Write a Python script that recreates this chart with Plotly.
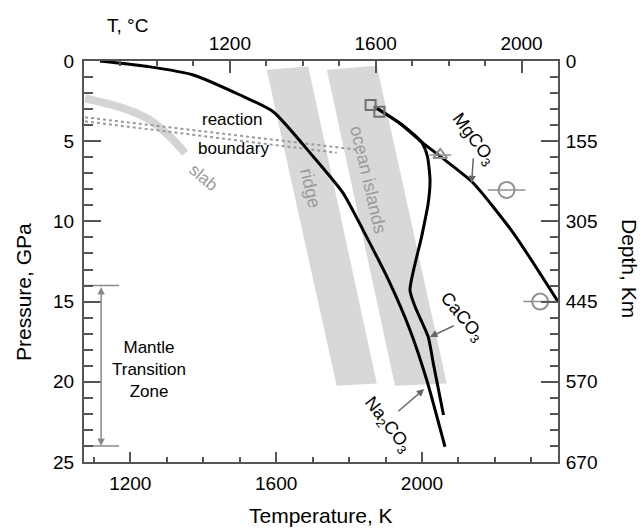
import plotly.graph_objects as go

# ---------------- data (Temperature in K, Pressure in GPa) ----------------
na2co3_T = [1117, 1250, 1373, 1501, 1592, 1702, 1784, 1842, 1908, 1967, 2013, 2063]
na2co3_P = [0.0, 0.35, 0.87, 2.12, 3.16, 5.97, 8.25, 10.7, 13.65, 16.77, 19.89, 24.05]

mgco3_T = [1876, 1940, 2004, 2070, 2141, 2251, 2373]
mgco3_P = [2.95, 3.9, 5.13, 6.3, 7.62, 10.74, 15.0]

caco3_T = [1876, 1940, 2000, 2015, 2022, 2017, 1999, 1967, 1981, 2017, 2031, 2059]
caco3_P = [2.95, 3.9, 5.1, 5.97, 7.42, 8.87, 10.95, 14.28, 15.32, 17.19, 18.85, 22.07]

ridge_T = [1574, 1688, 1876, 1766]
ridge_P = [0.55, 0.35, 20.1, 20.25]

ocean_T = [1739, 1876, 2068, 1926]
ocean_P = [0.55, 0.3, 20.1, 20.25]

slab_T = [1076, 1181, 1254, 1309, 1350]
slab_P = [2.33, 2.95, 3.68, 4.72, 5.75]

reactA_T = [1076, 1830]
reactA_P = [3.51, 5.55]
reactB_T = [1076, 1766]
reactB_P = [3.76, 5.72]

square_T = [1859, 1883]
square_P = [2.74, 3.16]
tri_T = [2050]
tri_P = [5.86]
tri_err = [30]
circle_T = [2232, 2324]
circle_P = [8.04, 15.0]
circle_err = [52, 46]

mtz_P = [14.0, 24.0]
mtz_T = [1073, 1169]

x_ticks_K = [1200, 1600, 2000]
x_ticks_C = [1200, 1600, 2000]
y_ticks = [0, 5, 10, 15, 20, 25]
depth_labels = ["0", "155", "305", "445", "570", "670"]

FONT = "Liberation Sans, Arial, Helvetica, sans-serif"
AX = "#555555"
GRAYTXT = "#9a9a9a"

fig = go.Figure()

# bands
fig.add_trace(go.Scatter(x=ridge_T + [ridge_T[0]], y=ridge_P + [ridge_P[0]], fill="toself",
                         fillcolor="#d8d8d8", line=dict(width=0), mode="lines", hoverinfo="skip"))
fig.add_trace(go.Scatter(x=ocean_T + [ocean_T[0]], y=ocean_P + [ocean_P[0]], fill="toself",
                         fillcolor="#d8d8d8", line=dict(width=0), mode="lines", hoverinfo="skip"))
# slab
fig.add_trace(go.Scatter(x=slab_T, y=slab_P, mode="lines",
                         line=dict(color="#d4d4d4", width=8, shape="spline")))
# reaction boundary
for tt, pp in [(reactA_T, reactA_P), (reactB_T, reactB_P)]:
    fig.add_trace(go.Scatter(x=tt, y=pp, mode="lines",
                             line=dict(color="#9a9a9a", width=2, dash="dot")))
# mantle transition zone limits
for p in mtz_P:
    fig.add_trace(go.Scatter(x=mtz_T, y=[p, p], mode="lines",
                             line=dict(color="#8a8a8a", width=1.5)))
# curves
for tt, pp in [(na2co3_T, na2co3_P), (mgco3_T, mgco3_P), (caco3_T, caco3_P)]:
    fig.add_trace(go.Scatter(x=tt, y=pp, mode="lines",
                             line=dict(color="black", width=3, shape="spline", smoothing=0.6)))
# markers
fig.add_trace(go.Scatter(x=square_T, y=square_P, mode="markers",
                         marker=dict(symbol="square-open", size=10, color="#707070",
                                     line=dict(width=2, color="#707070"))))
fig.add_trace(go.Scatter(x=tri_T, y=tri_P, mode="markers",
                         error_x=dict(type="data", array=tri_err, color="#909090", thickness=1.5, width=0),
                         marker=dict(symbol="triangle-up-open", size=12, color="#909090",
                                     line=dict(width=2, color="#909090"))))
fig.add_trace(go.Scatter(x=circle_T, y=circle_P, mode="markers",
                         error_x=dict(type="data", array=circle_err, color="#909090", thickness=1.5, width=0),
                         marker=dict(symbol="circle-open", size=16, color="#909090",
                                     line=dict(width=2, color="#909090"))))
# dummy trace for the top/right axes
fig.add_trace(go.Scatter(x=[800, 2100], y=[0, 25], xaxis="x2", yaxis="y2", mode="markers",
                         marker=dict(opacity=0), hoverinfo="skip"))

common = dict(showgrid=False, zeroline=False, showline=True, linecolor=AX, linewidth=2,
              ticks="inside", tickcolor=AX, tickwidth=2,
              tickfont=dict(family=FONT, size=19, color="black"))

fig.update_layout(
    width=643, height=530,
    margin=dict(l=84, r=85, t=61, b=68),
    paper_bgcolor="white", plot_bgcolor="white",
    showlegend=False, hovermode=False,
    font=dict(family=FONT, color="black"),
    xaxis=dict(range=[1073, 2373], tickmode="array", tickvals=x_ticks_K, ticklen=10,
               minor=dict(tickmode="linear", tick0=1000, dtick=100, ticklen=5, tickcolor=AX,
                          tickwidth=2, ticks="inside"),
               ticklabelstandoff=3, **common),
    xaxis2=dict(range=[800, 2100], overlaying="x", side="top", anchor="y", tickmode="array",
                tickvals=x_ticks_C, ticklen=12,
                minor=dict(tickmode="linear", tick0=800, dtick=100, ticklen=5, tickcolor=AX,
                           tickwidth=2, ticks="inside"),
                ticklabelstandoff=1, **common),
    yaxis=dict(range=[25, 0], tickmode="array", tickvals=y_ticks, ticklen=17,
               minor=dict(tickmode="linear", tick0=0, dtick=1, ticklen=9, tickcolor=AX,
                          tickwidth=2, ticks="inside"),
               ticklabelstandoff=4, **common),
    yaxis2=dict(range=[25, 0], overlaying="y", side="right", anchor="x", tickmode="array",
                tickvals=y_ticks, ticktext=depth_labels, ticklen=17,
                minor=dict(tickmode="linear", tick0=0, dtick=1, ticklen=8, tickcolor=AX,
                           tickwidth=2, ticks="inside"),
                ticklabelstandoff=2, **common),
)

ann = []
def txt(x, y, s, size=17, color="black", angle=0, ref=("x", "y")):
    ann.append(dict(x=x, y=y, xref=ref[0], yref=ref[1], text=s, showarrow=False,
                    xanchor="center", yanchor="middle",
                    textangle=angle, font=dict(family=FONT, size=size, color=color)))

def arrow(x, y, ax, ay, color="#666666", both=False):
    ann.append(dict(x=x, y=y, ax=ax, ay=ay, xref="x", yref="y", axref="x", ayref="y",
                    text="", showarrow=True, arrowhead=2, arrowsize=1, arrowwidth=1.5,
                    arrowcolor=color, arrowside="end+start" if both else "end",
                    startarrowhead=2, startarrowsize=1))

# axis titles (paper coordinates from reference pixel layout; plot area 474x401)
W, H = 474.0, 401.0
def px(xp): return (xp - 84) / W
def py(yp): return 1 - (yp - 61) / H
txt(px(321), py(515), "Temperature, K", size=21, ref=("paper", "paper"))
txt(px(23), py(292), "Pressure, GPa", size=21, angle=-90, ref=("paper", "paper"))
txt(px(630), py(268), "Depth, Km", size=21, angle=90, ref=("paper", "paper"))
txt(px(127), py(25), "T, °C", size=19, ref=("paper", "paper"))

txt(1480, 3.65, "reaction", size=17)
txt(1482, 5.45, "boundary", size=17)
txt(1400, 7.25, "slab", size=17, color=GRAYTXT, angle=40)
txt(1693, 7.94, "ridge", size=18, color=GRAYTXT, angle=77)
txt(1853, 7.42, "ocean islands", size=18, color=GRAYTXT, angle=77)
txt(2141, 4.87, "MgCO<sub>3</sub>", size=18, angle=53)
txt(2109, 15.98, "CaCO<sub>3</sub>", size=18, angle=50)
txt(1903, 22.69, "Na<sub>2</sub>CO<sub>3</sub>", size=18, angle=52)
txt(1251, 19.26, "Mantle<br>Transition<br>Zone", size=17)

arrow(2136, 7.62, 2141, 5.97)
arrow(2022, 17.2, 2091, 16.46)
arrow(2006, 20.45, 1931, 21.92)
arrow(1120, 24.0, 1120, 14.0, color="#8a8a8a", both=True)

fig.update_layout(annotations=ann)
fig.write_html("out.html", config={"displayModeBar": False, "staticPlot": True},
               post_script="document.body.style.margin='0';document.body.style.overflow='hidden';")
